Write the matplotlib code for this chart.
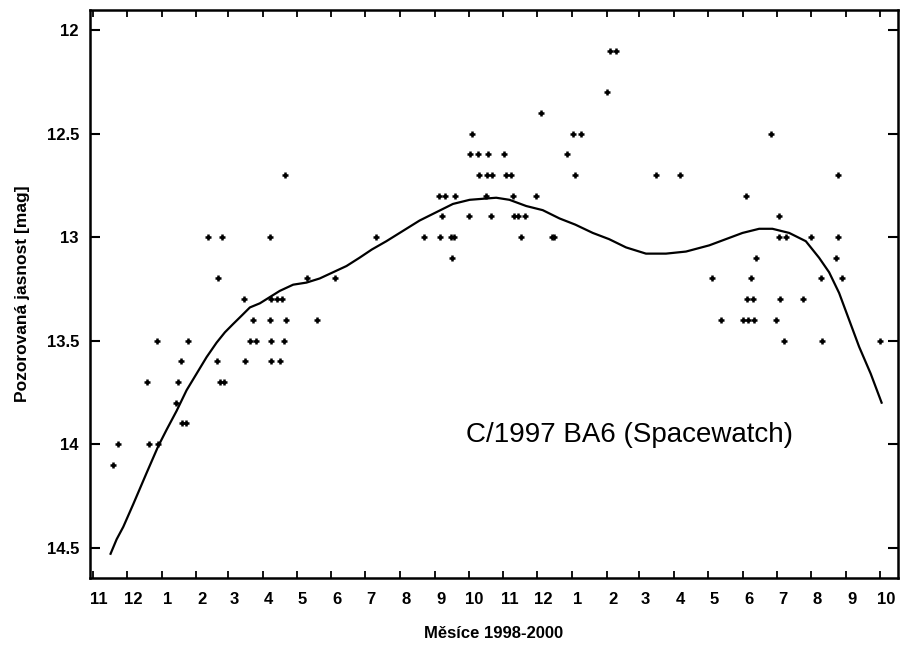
import pandas as pd
import matplotlib.pyplot as plt
from matplotlib.transforms import ScaledTranslation

plt.rcParams['font.family'] = ['Liberation Sans', 'DejaVu Sans']

# Observations: days since 1998-11-01 and observed magnitude
obs_day = [17.5, 22.5, 49.7, 58.0, 47.7, 75.8, 113.0, 116.6, 73.5, 79.0, 82.6,
           78.2, 109.9, 135.6, 158.7, 166.1, 57.1, 84.6, 139.2, 145.3, 158.7, 169.7,
           141.9, 157.2, 171.4, 199.3, 134.4, 158.7, 163.2, 167.9, 111.3, 190.4, 215.0,
           102.4, 114.3, 157.8, 251.4, 170.6,
           294.3, 308.3, 318.6, 320.7, 381.1, 408.4, 409.6, 319.2,
           310.5, 334.3, 353.6, 374.0, 378.2, 384.0,
           307.4, 312.7, 322.1, 349.7, 373.4, 394.2,
           343.1, 350.2, 355.0, 366.9, 371.6, 428.4,
           335.1, 342.5, 351.4, 365.9, 421.3,
           336.9, 426.7, 434.4, 398.5, 457.5, 459.9, 465.2,
           500.7, 522.0, 662.7, 603.2, 581.0, 609.7,
           610.3, 616.2, 638.7, 662.4, 589.6, 660.6,
           550.2, 585.1, 647.6, 666.0,
           582.1, 587.2, 610.9, 631.6,
           558.5, 578.3, 583.0, 587.8, 607.9,
           614.7, 648.2, 699.7]
obs_mag = [14.1, 14.0, 14.0, 14.0, 13.7, 13.7, 13.7, 13.7, 13.8, 13.9, 13.9,
           13.6, 13.6, 13.6, 13.6, 13.6, 13.5, 13.5, 13.5, 13.5, 13.5, 13.5,
           13.4, 13.4, 13.4, 13.4, 13.3, 13.3, 13.3, 13.3, 13.2, 13.2, 13.2,
           13.0, 13.0, 13.0, 13.0, 12.7,
           13.0, 13.0, 13.0, 13.0, 13.0, 13.0, 13.0, 13.1,
           12.9, 12.9, 12.9, 12.9, 12.9, 12.9,
           12.8, 12.8, 12.8, 12.8, 12.8, 12.8,
           12.7, 12.7, 12.7, 12.7, 12.7, 12.7,
           12.6, 12.6, 12.6, 12.6, 12.6,
           12.5, 12.5, 12.5, 12.4, 12.3, 12.1, 12.1,
           12.7, 12.7, 12.7, 12.5, 12.8, 12.9,
           13.0, 13.0, 13.0, 13.0, 13.1, 13.1,
           13.2, 13.2, 13.2, 13.2,
           13.3, 13.3, 13.3, 13.3,
           13.4, 13.4, 13.4, 13.4, 13.4,
           13.5, 13.5, 13.5]

# Fitted light curve
fit_day = [15.6, 21.0, 26.9, 35.8, 47.6, 58.0, 65.5, 74.3, 83.2, 92.1, 101.0,
           109.9, 117.3, 124.6, 132.1, 139.5, 148.4, 154.3, 166.1, 178.0, 189.8,
           201.6, 213.5, 225.4, 237.0, 248.0, 260.9, 275.7, 290.5, 305.3, 320.1,
           335.0, 346.7, 358.6, 370.4, 385.3, 400.0, 414.9, 429.0, 444.5, 459.0,
           474.1, 491.8, 509.6, 527.4, 548.1, 562.9, 577.7, 592.5, 604.3, 619.2,
           634.0, 645.8, 654.7, 663.6, 672.5, 681.4, 691.7, 701.4]
fit_mag = [14.53, 14.46, 14.40, 14.29, 14.14, 14.01, 13.93, 13.84, 13.74, 13.66, 13.58,
           13.51, 13.46, 13.42, 13.38, 13.34, 13.32, 13.30, 13.26, 13.23, 13.22,
           13.20, 13.17, 13.14, 13.10, 13.06, 13.02, 12.97, 12.92, 12.88, 12.84,
           12.82, 12.815, 12.81, 12.82, 12.85, 12.87, 12.91, 12.94, 12.98, 13.01,
           13.05, 13.08, 13.08, 13.07, 13.04, 13.01, 12.98, 12.96, 12.96, 12.98,
           13.02, 13.10, 13.17, 13.27, 13.40, 13.53, 13.66, 13.80]

start = pd.Timestamp('1998-11-01')
months = pd.date_range('1998-11-01', '2000-10-01', freq='MS')
month_days = (months - start).days
month_labels = [str(m) for m in months.month]

fig = plt.figure(figsize=(9, 6.45), dpi=100)
ax = fig.add_axes([0.1, 0.1039, 0.8978, 0.8806])

ax.plot(obs_day, obs_mag, '+', color='black', ms=5, mew=1.8)
ax.plot(fit_day, fit_mag, '-', color='black', lw=1.6, solid_joinstyle='round')

ax.set_xlim(-2.7, 716)
ax.set_ylim(14.647, 11.903)

ax.set_xticks(month_days)
ax.set_xticklabels(month_labels, fontsize=12, fontweight='bold')
ax.set_yticks([12, 12.5, 13, 13.5, 14, 14.5])
ax.set_yticklabels(['12', '12.5', '13', '13.5', '14', '14.5'], fontsize=12, fontweight='bold')
ax.tick_params(axis='x', direction='in', top=True, length=5, width=1.3, pad=10)
ax.tick_params(axis='y', direction='in', right=True, length=7, width=1.5, pad=8)

offset = ScaledTranslation(0.06, 0, fig.dpi_scale_trans)
for lbl in ax.get_xticklabels():
    lbl.set_transform(lbl.get_transform() + offset)

for sp in ax.spines.values():
    sp.set_linewidth(1.8)

ax.set_xlabel('Měsíce 1998-2000', fontsize=12, fontweight='bold', labelpad=14)
ax.set_ylabel('Pozorovaná jasnost [mag]', fontsize=12.5, fontweight='bold', labelpad=12)

ax.text(0.668, 0.252, 'C/1997 BA6 (Spacewatch)', transform=ax.transAxes,
        fontsize=20, ha='center', va='center')

plt.savefig('out.png', dpi=100)
